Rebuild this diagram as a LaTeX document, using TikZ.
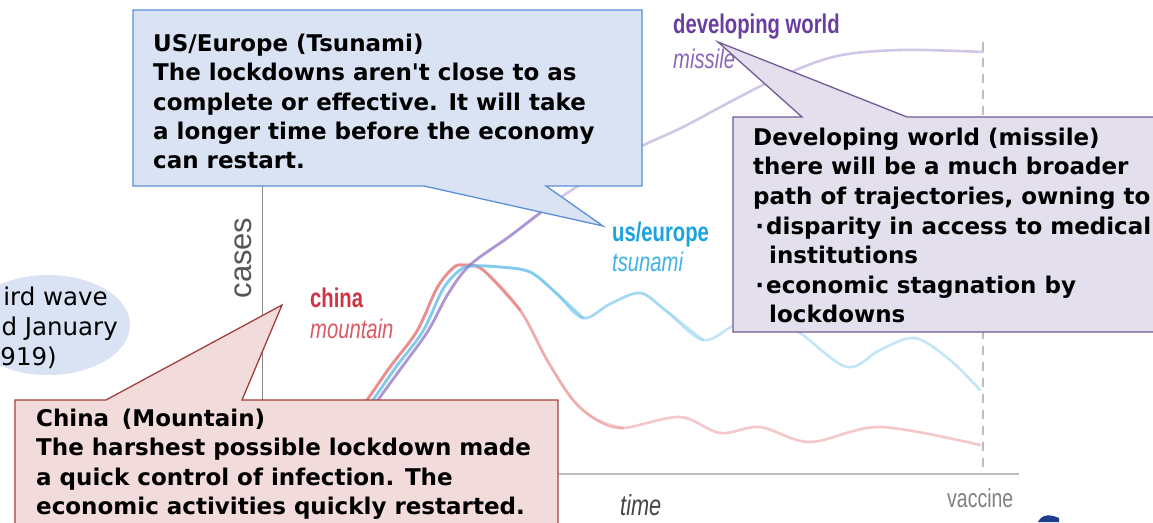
\documentclass[tikz,border=0pt]{standalone}
\usepackage{fontspec}
\setmainfont{DejaVu Sans}[Ligatures=TeXOff]
\newfontfamily\condfont[FakeStretch=0.75]{Liberation Sans}
\newfontfamily\plainsans{Liberation Sans}
\definecolor{bluefill}{HTML}{DAE3F3}
\definecolor{bluedraw}{HTML}{5B8FD6}
\definecolor{purplefill}{HTML}{E4DFEC}
\definecolor{purpledraw}{HTML}{705B93}
\definecolor{redfill}{HTML}{F2DCDB}
\definecolor{reddraw}{HTML}{A0403E}
\definecolor{chinared}{HTML}{D03545}
\definecolor{chinalight}{HTML}{DA5A64}
\definecolor{usblue}{HTML}{1BA3DE}
\definecolor{uslight}{HTML}{40B2E3}
\definecolor{devpurple}{HTML}{6A3E9E}
\definecolor{devlight}{HTML}{8A66BA}
\definecolor{curvered}{HTML}{E67A7C}
\definecolor{curvebluec}{HTML}{6EC3EC}
\definecolor{curvepurple}{HTML}{9479C8}
\definecolor{axisgray}{HTML}{BDBDBD}
\definecolor{labelgray}{HTML}{555555}
\definecolor{navyblob}{HTML}{1E3C8C}
\newcommand{\bulletdot}{\makebox[13pt][c]{·}}
\tikzset{
  calltext/.style={anchor=north west, inner sep=0pt, align=left,
    font=\bfseries\fontsize{23}{29.4}\selectfont},
  wavetext/.style={anchor=base east, inner sep=0pt, font=\fontsize{24.5}{29}\selectfont},
  biglabel/.style={anchor=base west, inner sep=0pt, font=\condfont\bfseries\fontsize{27}{30}\selectfont},
  smalllabel/.style={anchor=base west, inner sep=0pt, font=\condfont\itshape\fontsize{27}{30}\selectfont},
  curvelight/.style={line width=2.6pt, line cap=round, opacity=0.42},
  curvemid/.style={line width=2.7pt, line cap=round, opacity=0.35},
  curvestrong/.style={line width=2.8pt, line cap=round, opacity=0.6},
  bluecall/.style={fill=bluefill, draw=bluedraw, line width=1.3pt, line join=miter},
  purplecall/.style={fill=purplefill, draw=purpledraw, line width=1.3pt, line join=miter},
  redcall/.style={fill=redfill, draw=reddraw, line width=1.3pt, line join=miter}
}
\begin{document}
\begin{tikzpicture}[x=1pt,y=-1pt]
\useasboundingbox (0,0) rectangle (1153,522);
\clip (0,0) rectangle (1153,522);
\fill[white] (0,0) rectangle (1153,522);

% ellipse note at the left edge
\fill[bluefill] (48,325) ellipse [x radius=82pt, y radius=50pt];
\node[wavetext] (wave1) at (108,305) {ird wave};
\node[wavetext] (wave2) at (118,335) {d January};
\node[wavetext] (wave3) at (57,365) {919)};

% axes
\draw[labelgray!70, line width=0.9pt] (262,150) -- (262,474);
\draw[axisgray, line width=2.5pt] (262,474) -- (1019,474);
\draw[axisgray, line width=2pt, dash pattern=on 9pt off 7pt] (983,42) -- (983,474);

% curves
\draw[curvered, curvelight] plot[smooth, tension=0.55] coordinates {(345,430) (367,400) (390,367) (417,331) (437,288) (453,268) (463,265) (483,270) (520,310) (547,360) (573,400) (597,420) (623,428) (680,417) (720,433) (760,427) (810,442) (880,427) (980,445)};
\draw[curvered, curvemid] plot[smooth, tension=0.55] coordinates {(345,430) (367,400) (390,367) (417,331) (437,288) (453,268) (463,265) (483,270) (520,310) (547,360) (573,400) (597,420) (623,428)};
\draw[curvered, curvestrong] plot[smooth, tension=0.55] coordinates {(345,430) (367,400) (390,367) (417,331) (437,288) (453,268) (463,265) (483,270) (520,310)};
\draw[curvebluec, curvelight] plot[smooth, tension=0.55] coordinates {(352,430) (373,400) (396,367) (423,331) (443,289) (460,270) (472,266) (500,267) (530,272) (555,292) (583,318) (610,304) (640,293) (665,310) (703,340) (735,325) (770,317) (800,333) (847,367) (880,350) (915,338) (950,360) (980,390)};
\draw[curvebluec, curvemid] plot[smooth, tension=0.55] coordinates {(352,430) (373,400) (396,367) (423,331) (443,289) (460,270) (472,266) (500,267) (530,272) (555,292) (583,318) (610,304) (640,293) (665,310) (703,340)};
\draw[curvebluec, curvestrong] plot[smooth, tension=0.55] coordinates {(352,430) (373,400) (396,367) (423,331) (443,289) (460,270) (472,266) (500,267) (530,272) (555,292) (583,318)};
\draw[curvepurple, curvelight] plot[smooth, tension=0.55] coordinates {(358,430) (378,400) (402,367) (428,331) (448,294) (470,265) (510,236) (557,200) (600,172) (640,147) (683,127) (767,83) (833,57) (900,50) (983,52)};
\draw[curvepurple, curvestrong] plot[smooth, tension=0.55] coordinates {(358,430) (378,400) (402,367) (428,331) (448,294) (470,265) (510,236) (557,200)};

% chart labels
\node[biglabel, text=devpurple] (devlabel) at (673,33) {developing world};
\node[smalllabel, text=devlight] (missile) at (673,68) {missile};
\node[biglabel, text=usblue] (uslabel) at (612,241) {us/europe};
\node[smalllabel, text=uslight] (tsunami) at (612,271) {tsunami};
\node[biglabel, text=chinared] (chinalabel) at (310,307) {china};
\node[smalllabel, text=chinalight] (mountain) at (310,338) {mountain};
\node[anchor=base, inner sep=0pt, rotate=90, text=labelgray, font=\plainsans\fontsize{31}{34}\selectfont] (cases) at (251,258) {cases};
\node[anchor=base west, inner sep=0pt, text=labelgray!80!black, font=\condfont\itshape\fontsize{29}{32}\selectfont] (time) at (620,515) {time};
\node[anchor=base west, inner sep=0pt, text=labelgray!75, font=\condfont\fontsize{26}{30}\selectfont] (vaccine) at (947,507) {vaccine};

% callouts
\draw[bluecall] (133,10) -- (642,10) -- (642,186) -- (546,186) -- (603,226) -- (424,186) -- (133,186) -- cycle;
\node[calltext] (bluetext) at (153,51-20.58) {\strut US/Europe (Tsunami)\\The lockdowns aren't close to as\\complete or effective. It will take\\a longer time before the economy\\can restart.};

\draw[purplecall] (733,117) -- (802,117) -- (718,42) -- (907,117) -- (1170,117) -- (1170,332) -- (733,332) -- cycle;
\node[calltext, font=\bfseries\fontsize{23}{29.6}\selectfont] (purpletext) at (753,145-20.72) {\strut Developing world (missile)\\there will be a much broader\\path of trajectories, owning to\\\bulletdot disparity in access to medical\\\hspace*{16pt}institutions\\\bulletdot economic stagnation by\\\hspace*{16pt}lockdowns};

\draw[redcall] (15,400) -- (106,400) -- (282,305) -- (242,400) -- (558,400) -- (558,540) -- (15,540) -- cycle;
\node[calltext] (redtext) at (36,426-20.58) {\strut China\hspace{0.55em}(Mountain)\\The harshest possible lockdown made\\a quick control of infection. The\\economic activities quickly restarted.};

% partial icon at the bottom right
\fill[navyblob] (1038,522) .. controls (1042,514) and (1050,514) .. (1059,518) -- (1059,522) -- cycle;
\end{tikzpicture}
\end{document}
